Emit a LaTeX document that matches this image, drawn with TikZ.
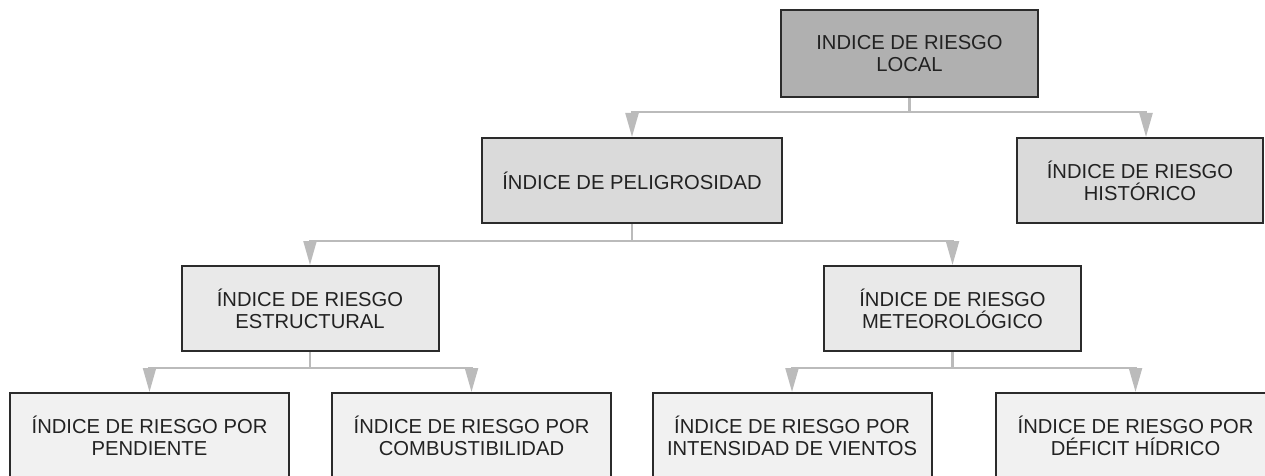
\documentclass[tikz,border=0pt]{standalone}
\usepackage{fontspec}
\setmainfont{Liberation Sans}
\usetikzlibrary{arrows.meta}

\definecolor{borde}{HTML}{2B2B2B}
\definecolor{texto}{HTML}{222222}
\definecolor{flecha}{HTML}{BBBBBB}
\definecolor{gris0}{HTML}{B0B0B0}
\definecolor{gris1}{HTML}{DADADA}
\definecolor{gris2}{HTML}{E9E9E9}
\definecolor{gris3}{HTML}{F1F1F1}

\begin{document}
\begin{tikzpicture}[
      x=1pt, y=-1pt,
      every node/.style={rectangle, draw=borde, line width=2pt, text=texto, align=center,
        inner sep=0pt, font=\fontsize{20.2}{22.3}\selectfont},
      nivel0/.style={fill=gris0, minimum width=257pt, minimum height=87pt},
      nivel1/.style={fill=gris1, minimum height=85pt},
      nivel2/.style={fill=gris2, minimum width=257pt, minimum height=85pt},
      nivel3/.style={fill=gris3, minimum width=279pt, minimum height=85pt},
      conector/.style={draw=flecha, line width=2.2pt, -{Triangle[width=13pt,length=24pt]}}
    ]
    \useasboundingbox (0,0) rectangle (1265,476);
    \clip (0,0) rectangle (1265,476);

    % Raíz
    \node[nivel0] (local) at (909.5,53.5) {INDICE DE RIESGO\\LOCAL};

    % Primer nivel
    \node[nivel1, minimum width=300pt] (pelig) at (632,180.5) {ÍNDICE DE PELIGROSIDAD};
    \node[nivel1, minimum width=246pt] (hist) at (1140,180.5) {ÍNDICE DE RIESGO\\HISTÓRICO};

    % Segundo nivel
    \node[nivel2] (estr) at (310,308.5) {ÍNDICE DE RIESGO\\ESTRUCTURAL};
    \node[nivel2] (meteo) at (952.5,308.5) {ÍNDICE DE RIESGO\\METEOROLÓGICO};

    % Tercer nivel
    \node[nivel3] (pend) at (149.5,435.5) {ÍNDICE DE RIESGO POR\\PENDIENTE};
    \node[nivel3] (comb) at (471.5,435.5) {ÍNDICE DE RIESGO POR\\COMBUSTIBILIDAD};
    \node[nivel3] (vient) at (792,435.5) {ÍNDICE DE RIESGO POR\\INTENSIDAD DE VIENTOS};
    \node[nivel3] (defic) at (1135.5,435.5) {ÍNDICE DE RIESGO POR\\DÉFICIT HÍDRICO};

    % Conectores
    \draw[conector] (local.south) -- ++(0,14) -| (pelig.north);
    \draw[conector] (local.south) -- ++(0,14) -| ([xshift=6pt]hist.north);
    \draw[conector] (pelig.south) -- ++(0,17) -| (estr.north);
    \draw[conector] (pelig.south) -- ++(0,17) -| (meteo.north);
    \draw[conector] (estr.south) -- ++(0,16) -| (pend.north);
    \draw[conector] (estr.south) -- ++(0,16) -| (comb.north);
    \draw[conector] (meteo.south) -- ++(0,16) -| (vient.north);
    \draw[conector] (meteo.south) -- ++(0,16) -| (defic.north);
  \end{tikzpicture}
\end{document}
